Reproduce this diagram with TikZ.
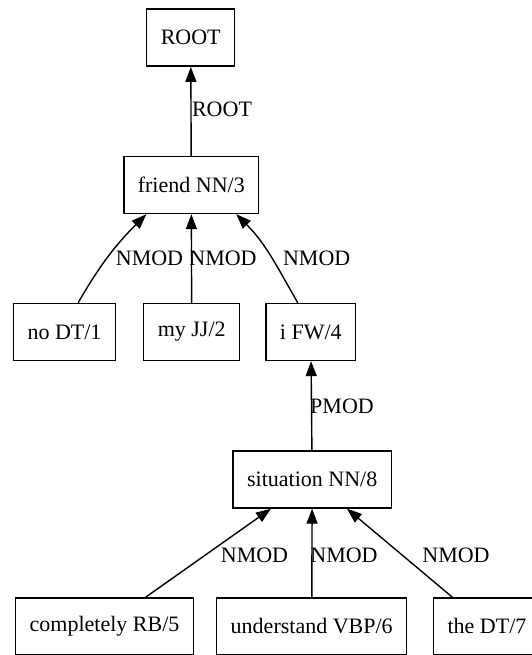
\documentclass[tikz,border=0pt]{standalone}
\usepackage{fontspec}
\setmainfont{Liberation Serif}
\usetikzlibrary{arrows.meta}
\begin{document}
\begin{tikzpicture}[x=1pt,y=1pt,font=\fontsize{22}{26}\selectfont,
  tok/.style={draw,line width=1.4pt,minimum height=57pt,inner xsep=14pt},
  dep/.style={line width=1.4pt,-{Triangle[length=15pt,width=11pt]}},
  rel/.style={inner sep=0pt}]
\useasboundingbox (0,0) rectangle (532,-655);
% tokens, one row per level
\node[tok] (root) at (190.7,-37.7) {ROOT};
\node[tok] (friend) at (191.3,-185) {friend NN/3};
\node[tok] (no) at (64.5,-332) {no DT/1};
\node[tok] (my) at (191.7,-332) {my JJ/2};
\node[tok] (i) at (310.8,-332) {i FW/4};
\node[tok] (situation) at (312.2,-479.5) {situation NN/8};
\node[tok] (completely) at (104.5,-626.3) {completely RB/5};
\node[tok] (understand) at (311.7,-626.3) {understand VBP/6};
\node[tok] (the) at (487,-626.3) {the DT/7};
% arcs
\draw[dep] (friend) -- (root);
\draw[dep] (no.65) to[out=60,in=225] (friend.213);
\draw[dep] (my) -- (friend);
\draw[dep] (i.114) to[out=120,in=315] (friend.327);
\draw[dep] (situation) -- (i);
\foreach \t in {completely,understand,the}
  \draw[dep] (\t) -- (situation);
% arc labels
\foreach \x/\y/\l [count=\n] in {222/109/ROOT,149.5/258.3/NMOD,223/258.3/NMOD,
  316.7/258.3/NMOD,342/406.3/PMOD,254.5/555.7/NMOD,344/555.7/NMOD,456/555.7/NMOD}
  \node[rel] (lab\n) at (\x,-\y) {\l};
\end{tikzpicture}
\end{document}
